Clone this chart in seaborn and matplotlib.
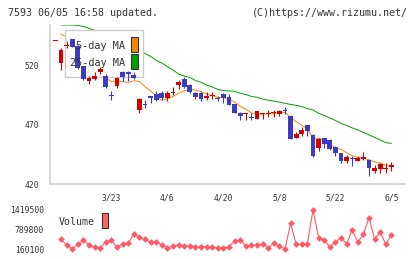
import numpy as np
import pandas as pd
import matplotlib
matplotlib.use("Agg")
import matplotlib.pyplot as plt
import seaborn as sns
from matplotlib.patches import Rectangle
from matplotlib.transforms import blended_transform_factory

# trading days shown (3/6 .. 6/5, Japanese holidays removed)
holidays = ["2020-03-20", "2020-04-29", "2020-05-04", "2020-05-05", "2020-05-06"]
dates = [d for d in pd.bdate_range("2020-03-06", "2020-06-05") if d.strftime("%Y-%m-%d") not in holidays]
label_dates = ["3/23", "4/6", "4/20", "5/8", "5/22", "6/5"]

opens = [541.0, 522.8, 537.2, 542.5, 537.0, 520.0, 507.3, 509.0, 514.5, 511.5,
         495.4, 503.0, 515.2, 514.5, 512.0, 482.7, 488.0, 494.6, 496.3, 497.4,
         492.6, 496.7, 503.9, 509.0, 503.9, 497.4, 496.7, 492.6, 494.3, 493.1,
         496.3, 493.5, 487.8, 480.4, 479.6, 477.0, 475.1, 479.6, 479.5, 479.9,
         479.3, 482.5, 477.9, 459.2, 462.4, 470.0, 461.5, 450.8, 458.7, 457.3,
         451.6, 446.0, 439.7, 442.2, 439.9, 441.2, 440.3, 431.0, 432.5, 432.5,
         434.4]
highs = [541.0, 534.8, 541.2, 542.9, 537.8, 520.3, 511.5, 514.9, 519.2, 513.2,
         499.2, 510.7, 515.8, 515.8, 514.9, 492.9, 491.2, 494.8, 498.4, 498.4,
         498.8, 502.2, 507.7, 510.3, 504.7, 498.2, 498.0, 498.2, 498.2, 494.9,
         496.9, 496.3, 488.0, 481.3, 479.9, 479.9, 481.9, 479.9, 482.7, 482.7,
         483.1, 485.3, 478.5, 464.3, 468.7, 470.4, 462.0, 458.6, 459.0, 457.7,
         452.0, 446.3, 444.6, 443.3, 443.7, 447.4, 440.7, 436.1, 437.8, 437.5,
         438.9]
lows = [541.0, 516.6, 535.3, 536.1, 517.5, 508.1, 504.7, 508.1, 512.8, 501.4,
        491.2, 501.4, 507.3, 507.3, 509.0, 480.2, 484.0, 488.4, 490.3, 490.8,
        490.6, 495.4, 500.5, 501.4, 496.9, 491.8, 490.6, 491.2, 491.6, 489.9,
        488.9, 487.0, 480.0, 474.2, 474.2, 474.2, 475.1, 474.8, 476.4, 476.4,
        478.0, 479.3, 457.7, 459.0, 460.7, 460.3, 442.9, 448.0, 450.8, 449.2,
        443.7, 437.8, 438.1, 435.3, 439.7, 440.3, 427.0, 429.3, 429.6, 429.6,
        430.8]
closes = [541.0, 533.6, 537.8, 536.4, 518.3, 508.6, 509.4, 511.1, 517.5, 501.8,
          494.6, 509.8, 510.7, 513.2, 509.4, 491.6, 487.0, 493.1, 490.8, 492.9,
          496.9, 497.3, 506.0, 502.0, 498.2, 494.0, 492.0, 494.6, 495.0, 491.6,
          492.5, 487.0, 480.4, 477.9, 479.9, 475.9, 481.9, 479.9, 479.9, 480.3,
          481.9, 481.7, 458.1, 462.0, 465.8, 464.9, 443.7, 458.1, 453.7, 449.4,
          446.5, 439.7, 442.7, 441.2, 442.3, 443.1, 433.3, 433.6, 436.7, 432.9,
          436.1]
ma5 = [np.nan, 547.1, 544.6, 539.0, 533.0, 526.9, 522.1, 516.8, 513.0, 509.7,
       506.9, 507.0, 506.9, 506.0, 507.5, 506.9, 502.4, 498.9, 494.4, 491.1,
       492.1, 494.2, 496.8, 499.0, 500.1, 499.5, 498.4, 496.2, 494.8, 493.4,
       493.1, 492.1, 489.3, 485.9, 483.5, 480.2, 479.2, 479.1, 479.5, 479.6,
       480.8, 480.7, 476.4, 472.8, 469.9, 466.5, 458.9, 458.9, 457.2, 454.0,
       450.3, 449.5, 446.4, 443.9, 442.5, 441.8, 440.5, 438.7, 437.8, 435.9,
       434.5]
ma25 = [np.nan, 554.7, 554.7, 554.7, 554.3, 553.5, 551.9, 550.2, 548.0, 545.8,
        543.6, 541.5, 539.3, 537.1, 535.0, 532.8, 530.6, 528.1, 524.7, 522.5,
        519.4, 516.6, 513.2, 511.4, 510.3, 507.7, 506.2, 503.9, 502.2, 500.1,
        499.2, 498.8, 498.6, 496.9, 495.8, 494.2, 493.5, 492.0, 491.0, 490.3,
        489.3, 488.4, 487.4, 486.6, 485.7, 483.8, 482.7, 479.9, 478.1, 476.0,
        473.8, 471.3, 469.6, 467.5, 465.8, 463.7, 461.6, 459.5, 457.3, 455.0,
        454.5]
volume = [np.nan, 476500, 294300, 165000, 316700, 444600, 294300, 220800, 208000, 390200,
          444600, 230400, 326300, 348700, 646000, 540500, 476500, 380700, 390200, 294300,
          208000, 262400, 294300, 252800, 262400, 220800, 240000, 240000, 220800, 198500,
          198500, 240000, 412600, 463800, 262400, 284800, 284800, 335900, 208000, 348700,
          262400, 160100, 988000, 316700, 316700, 335900, 1419500, 527700, 444600, 240000,
          380700, 527700, 335900, 773800, 380700, 636400, 1167000, 486100, 700300, 316700,
          614000]

RED = "#d40000"
BLUE = "#3c3cc0"
GRAY = "#d0d0d0"
TXT = "#333333"
FONT = "DejaVu Sans Mono"

sns.set_theme(style="white")
plt.rcParams["font.family"] = [FONT]

W, H = 420, 259
fig = plt.figure(figsize=(W / 100, H / 100), dpi=100)
fig.patch.set_facecolor("white")


def fx(px):
    return px / W


def fy(py):
    return 1 - py / H


idx = np.arange(len(dates))
df = pd.DataFrame({"idx": idx, "open": opens, "high": highs, "low": lows,
                   "close": closes, "ma5": ma5, "ma25": ma25, "volume": volume})
df["up"] = df["close"] >= df["open"]

# price panel
ax = fig.add_axes([fx(50), fy(184), fx(355), 159 / H])
ax.set_facecolor("white")
x_lo, x_hi = -0.964, 62.43
ax.set_xlim(x_lo, x_hi)
ax.set_ylim(420, 554.7)

sns.lineplot(data=df, x="idx", y="ma5", ax=ax, color="#f08c00", linewidth=0.7, zorder=1)
sns.lineplot(data=df, x="idx", y="ma25", ax=ax, color="#00a000", linewidth=0.7, zorder=1)

colors = [RED if u else BLUE for u in df["up"]]
bottoms = np.minimum(df["open"], df["close"])
heights = np.maximum((df["open"] - df["close"]).abs(), 0.9)
ax.vlines(idx, df["low"], df["high"], colors=colors, linewidth=0.8, zorder=3)
ax.bar(idx, heights, bottom=bottoms, width=0.85, color=colors, linewidth=0, zorder=3)

# legend box (hides the MA lines, candles stay on top)
ax.add_patch(Rectangle((fx(65), fy(77.3)), fx(78.3), 47.3 / H, transform=fig.transFigure,
                       facecolor="white", edgecolor="#cccccc", linewidth=1, zorder=2, clip_on=False))
for label, col, ytxt, ysw in [("5-day MA", "#f08c00", 46, 37.3), ("25-day MA", "#00a000", 62.5, 54)]:
    ax.text(fx(125), fy(ytxt), label, transform=fig.transFigure, ha="right", va="center",
            fontsize=7.3, color=TXT, zorder=4)
    ax.add_patch(Rectangle((fx(131), fy(ysw + 15)), fx(6.7), 15 / H, transform=fig.transFigure,
                           facecolor=col, edgecolor=TXT, linewidth=0.8, zorder=4, clip_on=False))

ax.set_xlabel("")
ax.set_ylabel("")
for s in ["top", "right"]:
    ax.spines[s].set_visible(False)
for s in ["left", "bottom"]:
    ax.spines[s].set_color(GRAY)
    ax.spines[s].set_linewidth(1.2)
ax.set_yticks([420, 470, 520])
ax.set_yticklabels(["420", "470", "520"])
ax.set_xticks(np.linspace(x_lo, x_hi, 12))
ax.set_xticklabels([])
ax.tick_params(axis="both", direction="inout", length=6.5, width=1.2, color=GRAY,
               labelsize=5.8, labelcolor=TXT, pad=4.5)

trans = blended_transform_factory(ax.transData, fig.transFigure)
day_labels = [f"{d.month}/{d.day}" for d in dates]
for i, lab in enumerate(day_labels):
    if lab in label_dates:
        ax.text(i, fy(198), lab, transform=trans, ha="center", va="center",
                fontsize=5.8, color=TXT)

# volume panel
vmin, vmax = 160100, 1419500
axv = fig.add_axes([fx(50), fy(249.2), fx(355), 39.4 / H])
axv.set_xlim(x_lo, x_hi)
axv.set_ylim(vmin, vmax)
sns.lineplot(data=df, x="idx", y="volume", ax=axv, color="#ff5a64", linewidth=0.8,
             marker="D", markersize=3.4, markeredgewidth=0, clip_on=False)
axv.set_xlabel("")
axv.set_ylabel("")
for s in axv.spines.values():
    s.set_visible(False)
axv.set_xticks([])
axv.set_yticks([vmin, (vmin + vmax) / 2, vmax])
axv.set_yticklabels([str(vmin), str(int((vmin + vmax) / 2)), str(vmax)])
axv.tick_params(axis="y", length=0, labelsize=5.8, labelcolor=TXT, pad=4.3)
axv.patch.set_alpha(0)

fig.text(fx(59), fy(222), "Volume", ha="left", va="center", fontsize=7.1, color=TXT)
fig.patches.append(Rectangle((fx(101.7), fy(228.3)), fx(6), 15.6 / H, transform=fig.transFigure,
                             facecolor="#ff6666", edgecolor=TXT, linewidth=0.8, figure=fig))

# header
fig.text(fx(8), fy(13), "7593 06/05 16:58 updated.", ha="left", va="center",
         fontsize=7.2, color=TXT)
fig.text(fx(408), fy(13), "(C)https://www.rizumu.net/", ha="right", va="center",
         fontsize=7.2, color=TXT)

fig.savefig("out.png", dpi=100, facecolor="white")
